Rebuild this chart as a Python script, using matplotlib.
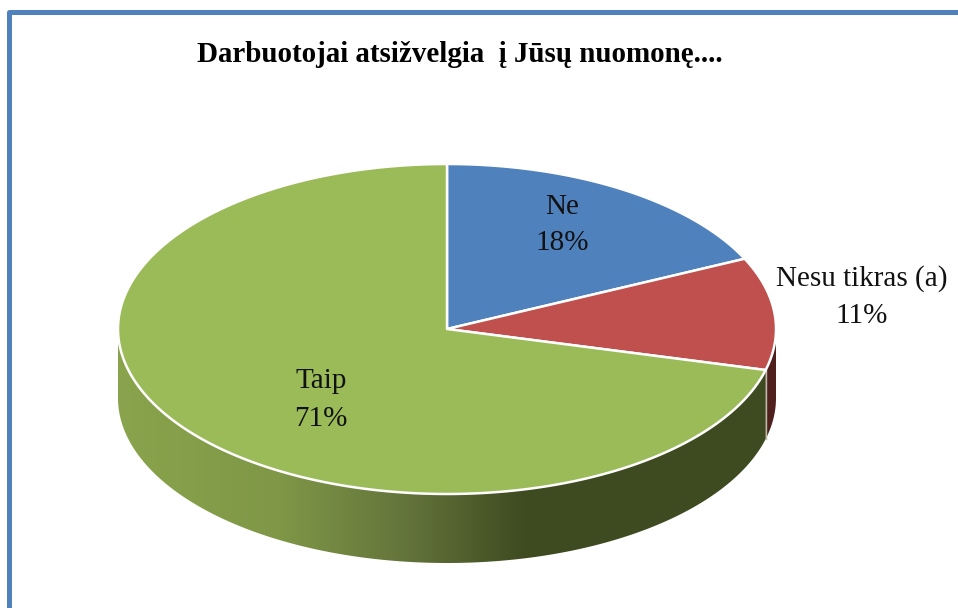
import numpy as np
import matplotlib
matplotlib.use("Agg")
import matplotlib.pyplot as plt
from matplotlib.colors import LinearSegmentedColormap
from matplotlib.patches import Polygon

title = "Darbuotojai atsižvelgia  į Jūsų nuomonę...."
labels = ["Ne", "Nesu tikras (a)", "Taip"]
shares = [18, 11, 71]
colors = ["#4f81bd", "#c0504d", "#9bbb59"]

# layout in image pixels
cx, cy = 447, 329
rx, ry = 329, 165
depth = 69
label_pos = [(562, 225), (862, 297), (321, 400)]

plt.rcParams["font.family"] = ["Liberation Serif", "DejaVu Serif"]

fig = plt.figure(figsize=(9.58, 6.08), dpi=100)
ax = fig.add_axes([0, 0, 1, 1])


def rim(a0, a1, dy=0):
    # angles in degrees, clockwise from 12 o'clock
    t = np.radians(np.linspace(a0, a1, 200))
    return np.c_[cx + rx * np.sin(t), cy - ry * np.cos(t) + dy]


edges = np.cumsum([0] + shares) * 3.6
seam = rim(edges[2], edges[2])[0]

# side walls, only the front part of the rim can be seen
green_cmap = LinearSegmentedColormap.from_list(
    "side", [(0, "#89a44c"), (0.25, "#7f9747"), (0.45, "#62733a"),
             (0.63, "#3e4a20"), (1, "#3f4b21")])
wall = np.vstack([rim(edges[2], 270), rim(edges[2], 270, depth)[::-1]])
patch = Polygon(wall, closed=True, fc="none", ec="none", zorder=1)
ax.add_patch(patch)
img = ax.imshow(np.linspace(0, 1, 256)[None, :], cmap=green_cmap, aspect="auto",
                extent=[cx - rx, seam[0], cy + depth + ry, cy], zorder=1)
img.set_clip_path(patch)

red_wall = np.vstack([rim(90, edges[2]), rim(90, edges[2], depth)[::-1]])
ax.add_patch(Polygon(red_wall, closed=True, fc="#50201f", ec="none", zorder=1))

ax.plot([seam[0], seam[0]], [seam[1], seam[1] + depth], color="#b9bda8", lw=1, zorder=2)

# top face
for i, c in enumerate(colors):
    pts = np.vstack([[cx, cy], rim(edges[i], edges[i + 1])])
    ax.add_patch(Polygon(pts, closed=True, fc=c, ec="white", lw=1.8,
                         joinstyle="round", zorder=3))

for name, share, (x, y) in zip(labels, shares, label_pos):
    ax.text(x, y, f"{name}\n{share}%", ha="center", va="center", fontsize=21,
            color="#111111", linespacing=1.55, zorder=4)

ax.text(460, 54, title, ha="center", va="center", fontsize=20.9,
        fontweight="bold", color="black")

# frame of the chart: left and top only are in the crop
frame_x = 9.5
frame_y = 11.5
ax.plot([frame_x, frame_x, 958], [608, frame_y, frame_y], color="#4f81bd", lw=3.6,
        solid_joinstyle="round", solid_capstyle="butt", zorder=5)

ax.set_xlim(0, 958)
ax.set_ylim(608, 0)
ax.axis("off")

fig.savefig("out.png", dpi=100)
